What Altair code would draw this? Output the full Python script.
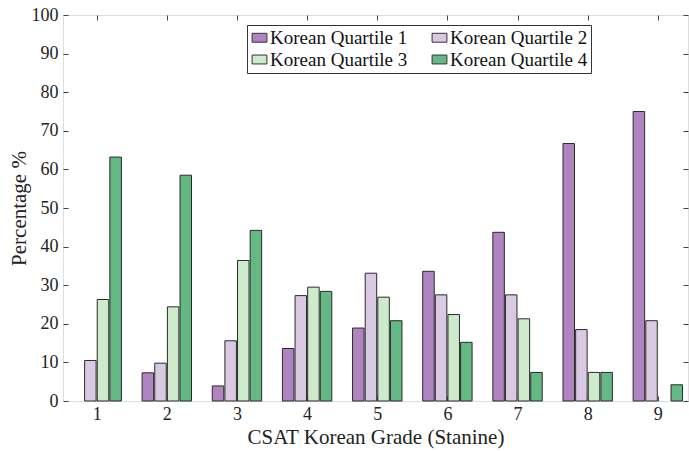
import altair as alt
import pandas as pd

grades = [1, 2, 3, 4, 5, 6, 7, 8, 9]
quartiles = ["Korean Quartile 1", "Korean Quartile 2", "Korean Quartile 3", "Korean Quartile 4"]
q1 = [0.0, 7.3, 3.9, 13.6, 18.9, 33.6, 43.7, 66.7, 75.0]
q2 = [10.5, 9.8, 15.6, 27.3, 33.1, 27.5, 27.5, 18.5, 20.8]
q3 = [26.3, 24.4, 36.4, 29.5, 26.9, 22.4, 21.3, 7.4, 0.0]
q4 = [63.2, 58.5, 44.2, 28.4, 20.8, 15.2, 7.4, 7.4, 4.2]
colors = ["#af84c1", "#d9c9e3", "#cdebca", "#63b883"]
y_ticks = [0, 10, 20, 30, 40, 50, 60, 70, 80, 90, 100]

rows = []
for qi, (name, vals) in enumerate(zip(quartiles, [q1, q2, q3, q4])):
    for g, v in zip(grades, vals):
        rows.append({"grade": g, "quartile": name, "idx": qi, "value": v})
df = pd.DataFrame(rows)

FONT = "Liberation Serif"

base = alt.Chart(df).transform_filter("datum.value > 0").transform_calculate(
    xs="datum.grade + (datum.idx - 1.5) * 0.18 - 0.082",
    xe="datum.grade + (datum.idx - 1.5) * 0.18 + 0.082",
)

xscale = alt.Scale(domain=[0.52, 9.43], nice=False, zero=False)
yscale = alt.Scale(domain=[0, 100], nice=False)

bars = base.mark_rect(stroke="#2a2a2a", strokeWidth=1).encode(
    x=alt.X("xs:Q", scale=xscale,
            axis=alt.Axis(values=grades, format="d", title="CSAT Korean Grade (Stanine)",
                          orient="bottom", domain=False, grid=False, offset=-5,
                          tickSize=5, tickColor="#444", labelPadding=4,
                          labelFont=FONT, labelFontSize=18, labelColor="#222",
                          titleFont=FONT, titleFontSize=21, titleFontWeight="normal",
                          titleColor="#222", titlePadding=3)),
    x2="xe:Q",
    y=alt.Y("value:Q", scale=yscale,
            axis=alt.Axis(values=y_ticks, title="Percentage %", orient="left",
                          domain=False, grid=False, offset=-5, tickSize=5,
                          tickColor="#444", labelPadding=5,
                          labelFont=FONT, labelFontSize=18, labelColor="#222",
                          titleFont=FONT, titleFontSize=21, titleFontWeight="normal",
                          titleColor="#222", titlePadding=2)),
    y2=alt.datum(0),
    color=alt.Color("quartile:N", scale=alt.Scale(domain=quartiles, range=colors),
                    legend=alt.Legend(title=None, orient="none", legendX=184, legendY=10,
                                      direction="horizontal",
                                      columns=2, columnPadding=22, rowPadding=2,
                                      symbolType="M-1,-0.6L1,-0.6L1,0.6L-1,0.6Z",
                                      symbolSize=220, symbolStrokeColor="#333",
                                      symbolStrokeWidth=1, symbolOpacity=1,
                                      labelFont=FONT, labelFontSize=19, labelColor="#111",
                                      labelLimit=300, labelOffset=1,
                                      strokeColor="#333", padding=3, fillColor="white")),
)

frame_axes = base.mark_rect(opacity=0).encode(
    x=alt.X("xs:Q", scale=xscale,
            axis=alt.Axis(values=grades, orient="top", labels=False, title=None,
                          domain=False, grid=False, offset=-5, tickSize=5,
                          tickColor="#444")),
    x2="xe:Q",
    y=alt.Y("value:Q", scale=yscale,
            axis=alt.Axis(values=y_ticks, orient="right", labels=False, title=None,
                          domain=False, grid=False, offset=-5, tickSize=5,
                          tickColor="#444")),
    y2=alt.datum(0),
)

chart = alt.layer(frame_axes, bars).properties(
    width=625, height=386,
    padding={"left": 63, "top": 15, "right": 1, "bottom": 50},
    autosize="none",
).configure_view(stroke="#444", strokeWidth=1.2).configure(background="white")

chart.save("out.html", embed_options={"renderer": "svg", "actions": False})
